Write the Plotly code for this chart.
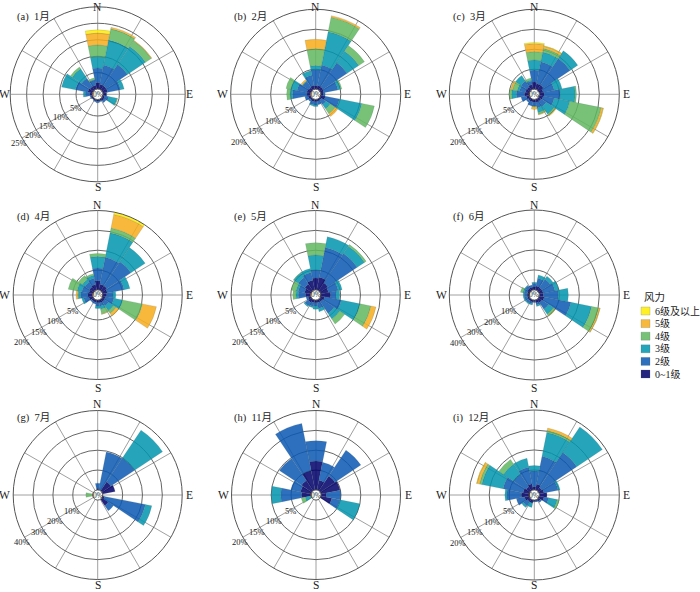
import math
import plotly.graph_objects as go

# wind sectors, clockwise from north
sectors = [0, 22.5, 45, 67.5, 90, 112.5, 135, 157.5, 180, 202.5, 225, 247.5, 270, 292.5, 315, 337.5]
levels = ['0~1级', '2级', '3级', '4级', '5级', '6级及以上']
colors = ['#00006a', '#0a58b2', '#0096ae', '#60b860', '#f7ac1a', '#ffed00']

# each row is one sector: 0~1, 2, 3, 4, 5, 6+ (% of hours)
jan = [[2.0, 4.4, 3.5, 3.5, 3.6, 1.0], [1.5, 6.0, 7.7, 3.5, 0.5, 0], [1.5, 7.8, 6.6, 2.1, 0.2, 0], [1.5, 4.0, 1.1, 0, 0, 0],
       [1.0, 0.2, 0, 0, 0, 0], [0.6, 1.2, 2.6, 0.2, 0, 0], [0.8, 0.7, 0, 0, 0, 0], [0.5, 0.3, 0, 0, 0, 0],
       [0.5, 0.5, 0, 0, 0, 0], [0.5, 0.3, 0, 0, 0, 0], [0.4, 0.1, 0, 0, 0, 0], [0.5, 0.3, 0, 0, 0, 0],
       [0.8, 1.4, 0.6, 0, 0, 0], [1.5, 3.8, 4.3, 0, 0, 0], [1.3, 3.0, 3.4, 0.7, 0, 0], [1.2, 1.6, 0.2, 0.5, 0, 0]]
feb = [[0.9, 4.0, 1.0, 4.2, 2.4, 0], [1.0, 5.2, 8.5, 3.7, 0.4, 0], [1.0, 7.2, 3.5, 1.7, 0, 0], [0.8, 3.6, 0.7, 0.3, 0, 0],
       [0.6, 0.5, 0, 0, 0, 0], [1.2, 3.6, 5.7, 3.2, 0, 0], [0.5, 1.3, 1.3, 1.5, 0.8, 0], [0.5, 0.9, 0, 0, 0, 0],
       [0.6, 0.8, 0.4, 0, 0, 0], [0.6, 0.8, 0.3, 0, 0, 0], [0.5, 0.5, 0, 0, 0, 0], [0.7, 0.8, 0, 0, 0, 0],
       [0.9, 3.6, 0.6, 0.9, 0, 0], [1.0, 2.5, 1.6, 1.2, 0, 0], [0.8, 1.8, 0.2, 0, 0.4, 0], [1.0, 2.6, 1.2, 0, 0, 0]]
mar = [[1.8, 3.0, 2.5, 2.1, 2.0, 0.3], [1.5, 5.5, 2.5, 0.9, 0.6, 0.1], [1.5, 8.0, 2.3, 0, 0, 0], [1.0, 2.8, 2.0, 0, 0, 0],
       [1.2, 4.0, 3.8, 0.3, 0, 0], [1.0, 2.8, 4.0, 8.0, 0.5, 0.1], [0.8, 1.5, 2.4, 0.4, 0.2, 0], [0.8, 1.4, 1.2, 0.4, 0.2, 0],
       [0.7, 1.0, 0, 0.2, 0.6, 0], [0.7, 1.0, 0, 0, 0, 0], [0.6, 0.6, 0, 0, 0, 0], [0.8, 1.3, 0, 0, 0, 0],
       [1.2, 2.0, 1.2, 0.6, 0, 0], [1.0, 1.5, 0.6, 1.2, 0.4, 0.1], [1.0, 1.7, 1.7, 0, 0, 0], [1.2, 0.9, 0.3, 0.5, 0, 0]]
apr = [[2.3, 3.2, 2.9, 0.8, 0, 0], [1.5, 6.9, 6.3, 1.2, 3.5, 1.0], [1.5, 7.3, 4.3, 0, 0, 0], [1.2, 4.3, 1.5, 0, 0, 0],
       [1.0, 1.6, 0.7, 0, 0, 0], [0.7, 2.2, 2.2, 5.1, 3.6, 0], [0.8, 1.2, 1.5, 0.8, 0.8, 0], [0.8, 0.8, 0.8, 1.2, 0.1, 0],
       [0.7, 0.8, 0.6, 0, 0, 0], [0.6, 0.5, 0, 0, 0, 0], [0.6, 0.4, 0, 0, 0, 0], [1.0, 1.3, 0.5, 0, 0, 0],
       [1.2, 1.8, 0.6, 0.2, 0.4, 0], [1.0, 1.8, 1.2, 2.3, 0, 0], [1.2, 1.4, 0.8, 1.2, 0, 0], [1.4, 1.6, 0.8, 0.4, 0, 0]]
may = [[3.0, 2.0, 3.8, 3.1, 0, 0], [3.3, 7.6, 2.8, 0, 0, 0], [2.4, 8.9, 2.2, 0.5, 0, 0], [2.0, 2.5, 1.0, 0, 0, 0],
       [2.5, 1.4, 0.9, 0, 0, 0], [1.0, 4.3, 4.8, 2.8, 1.3, 0], [0.8, 3.5, 1.7, 1.5, 0, 0], [0.7, 1.5, 0.8, 0, 0, 0],
       [0.7, 0.8, 0.8, 0, 0, 0], [0.7, 1.0, 0.3, 0, 0, 0], [1.0, 1.0, 0.3, 0, 0, 0], [0.7, 0.5, 0, 0, 0, 0],
       [1.3, 1.8, 0.6, 0.8, 0, 0], [1.6, 1.6, 0.6, 1.2, 0, 0], [2.0, 2.0, 1.4, 0.1, 0, 0], [2.5, 2.0, 1.0, 0, 0, 0]]
jun = [[1.5, 1.8, 0.5, 0, 0, 0], [2.0, 4.0, 1.7, 0, 0, 0], [2.0, 5.0, 1.8, 0, 0, 0], [2.0, 6.0, 2.0, 0, 0, 0],
       [2.0, 7.5, 5.0, 0, 0, 0], [2.5, 13.7, 10.5, 3.6, 0.7, 0.1], [2.0, 4.0, 3.0, 1.0, 0.3, 0], [1.5, 1.0, 0.8, 0, 0, 0],
       [0.8, 0.4, 0, 0, 0, 0], [1.0, 1.0, 0.5, 0, 0, 0], [1.0, 1.3, 0.5, 0, 0, 0], [1.0, 1.5, 0.5, 0, 0, 0],
       [1.0, 1.5, 0.5, 0, 0, 0], [1.0, 1.6, 0.7, 1.2, 0, 0], [1.5, 1.5, 0.3, 0, 0, 0], [1.5, 1.0, 0, 0, 0, 0]]
jul = [[0.8, 2.6, 0, 0, 0, 0], [0, 19.5, 0, 0, 0, 0], [5.5, 14.3, 16.9, 0, 0, 0], [6.4, 0, 0, 0, 0, 0],
       [0, 0, 0, 0, 0, 0], [1.0, 20.9, 3.3, 0, 0, 0], [3.9, 3.1, 0, 0, 0, 0], [0, 0, 0, 0, 0, 0],
       [0, 0, 0, 0, 0, 0], [0, 0, 0, 0, 0, 0], [0, 0, 0, 0, 0, 0], [0, 0, 0, 0, 0, 0],
       [0, 0, 0, 3.4, 0, 0], [0, 0, 0, 0, 0, 0], [0, 0, 0, 0, 0, 0], [0, 0, 0, 0, 0, 0]]
nov = [[7.3, 5.1, 0, 0, 0, 0], [2.5, 4.6, 0, 0, 0, 0], [4.5, 7.8, 0, 0, 0, 0], [4.9, 0, 0, 0, 0, 0],
       [1.3, 3.7, 0, 0, 0, 0], [2.8, 2.1, 5.1, 0, 0, 0], [0, 0, 0, 0, 0, 0], [0, 0, 0, 0, 0, 0],
       [0, 0, 0, 0, 0, 0], [0, 0, 0, 0, 0, 0], [0, 0, 0, 0, 0, 0], [0, 0, 1.5, 1.0, 0, 0],
       [2.4, 5.2, 2.4, 0, 0, 0], [2.7, 2.5, 0, 0, 0, 0], [3.1, 6.7, 0, 0, 0, 0], [5.0, 12.1, 0, 0, 0, 0]]
dec = [[0.8, 4.0, 1.3, 0, 0, 0], [1.5, 7.1, 6.1, 0.5, 0.6, 0], [1.0, 10.5, 7.7, 0, 0, 0], [1.2, 3.6, 0.5, 0, 0, 0],
       [1.9, 0, 0, 0, 0, 0], [1.2, 1.2, 2.2, 0.5, 0, 0], [0.6, 0.4, 0, 0, 0, 0], [0.3, 0.2, 0, 0, 0, 0],
       [0.3, 0.2, 0, 0, 0, 0], [0.8, 0, 1.1, 0, 0, 0], [0.8, 1.2, 0.5, 0, 0, 0], [1.2, 2.1, 0, 0, 0, 0],
       [2.0, 3.6, 0.5, 0, 0, 0], [1.6, 5.1, 5.4, 0.6, 0.7, 0.1], [1.2, 3.8, 3.0, 1.4, 0, 0], [1.6, 4.2, 2.3, 0, 0, 0]]

titles = ['(a)  1月', '(b)  2月', '(c)  3月', '(d)  4月', '(e)  5月', '(f)  6月', '(g)  7月', '(h)  11月', '(i)  12月']
months = [jan, feb, mar, apr, may, jun, jul, nov, dec]
r_max = [25, 20, 20, 20, 20, 40, 40, 20, 20]
r_step = [5, 5, 5, 5, 5, 10, 10, 5, 5]
compass = [('N', 0, 90.5), ('E', 90, 92), ('S', 180, 92.5), ('W', 270, 93)]

W, H = 700, 592
HOLE = 0.06
ALPHA = 0.85
serif = 'Liberation Serif, Noto Sans CJK SC'
ink = '#222222'
centers = [(97.7, 94.3), (315.7, 94.3), (534.3, 94.3),
           (97.7, 295), (315.7, 295), (534.3, 295),
           (97.7, 495), (316, 495), (534.3, 495)]
radius = [87.5, 85, 85, 84.5, 84.5, 85, 84.5, 84.5, 85]
title_pos = [(15, 17), (232, 17), (451, 17), (15, 217), (232, 217), (451, 217), (15, 418), (232, 418), (451, 418)]


def label(px, py, text, size, anchor='center'):
    return dict(x=px / W, y=1 - py / H, xref='paper', yref='paper', text=text, showarrow=False, xanchor=anchor,
                yanchor='middle', font=dict(family=serif, size=size, color=ink))


fig = go.Figure()
annotations = []
for i, month in enumerate(months):
    name = 'polar' if i == 0 else f'polar{i + 1}'
    for lv in range(6):
        fig.add_trace(go.Barpolar(
            r=[row[lv] for row in month], theta=sectors, width=22.5,
            marker=dict(color=colors[lv], opacity=ALPHA, line=dict(color='rgba(40,60,60,0.3)', width=0.5)),
            subplot=name, showlegend=False, hoverinfo='skip'))

    ticks = list(range(0, r_max[i] + 1, r_step[i]))
    cx, cy = centers[i]
    rr = radius[i]
    fig.update_layout({name: dict(
        domain=dict(x=[(cx - rr) / W, (cx + rr) / W], y=[1 - (cy + rr) / H, 1 - (cy - rr) / H]),
        barmode='stack', bargap=0, hole=HOLE, bgcolor='white',
        radialaxis=dict(range=[0, r_max[i]], tickvals=ticks, showticklabels=False, ticks='', showline=False,
                        gridcolor='#666666', gridwidth=0.9),
        angularaxis=dict(direction='clockwise', rotation=90, thetaunit='degrees',
                         tickvals=list(range(0, 360, 30)), showticklabels=False, ticks='',
                         gridcolor='#a0a0a0', gridwidth=0.9, linecolor='#555555', linewidth=1),
    )})

    # percent labels sit just past each ring, on a ray toward the lower left
    ray = math.radians(238)
    for t in ticks[1:]:
        dist = rr * (HOLE + (1 - HOLE) * t / r_max[i]) + 5
        annotations.append(label(cx + dist * math.sin(ray), cy - dist * math.cos(ray), f'{t}%', 8.5))
    for text, deg, dist in compass:
        a = math.radians(deg)
        # keep the top and bottom rows' letters inside the page
        py = min(max(cy - dist * math.cos(a), 7), H - 7)
        annotations.append(label(cx + dist * math.sin(a), py, text, 11.5))
    annotations.append(label(cx, cy, '0%', 7.5))
    annotations.append(label(title_pos[i][0], title_pos[i][1], titles[i], 10.5, 'left'))

# legend drawn by hand, the plotly one cannot pack rows this tight
shapes = []
annotations.append(label(642, 297, '风力', 10.5, 'left'))
for k in range(6):
    y = 311 + 12.6 * k
    lv = 5 - k
    shapes.append(dict(type='rect', xref='paper', yref='paper', x0=641 / W, x1=650 / W,
                       y0=1 - (y + 4) / H, y1=1 - (y - 4) / H, fillcolor=colors[lv], opacity=ALPHA,
                       line=dict(color='rgba(40,60,60,0.4)', width=0.5)))
    annotations.append(label(653, y, levels[lv], 10, 'left'))

fig.update_layout(width=W, height=H, margin=dict(l=0, r=0, t=0, b=0), paper_bgcolor='white',
                  showlegend=False, annotations=annotations, shapes=shapes)
# the page's default 8px body margin would push the chart off the window
fig.write_html("out.html", post_script="document.body.style.margin='0';", config={'displayModeBar': False})
